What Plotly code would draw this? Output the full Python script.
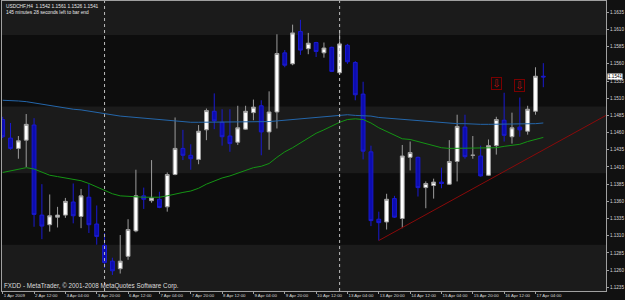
import plotly.graph_objects as go

# ---------------- data (USDCHF, H4) ----------------
bar_index = list(range(70))
opens = [1.1479, 1.1452, 1.1437, 1.1449, 1.1471, 1.1340, 1.1326, 1.1337, 1.1340, 1.1359,
         1.1338, 1.1366, 1.1327, 1.1296, 1.1273, 1.1262, 1.1280, 1.1317, 1.1368, 1.1361,
         1.1363, 1.1352, 1.1399, 1.1437, 1.1427, 1.1421, 1.1464, 1.1491, 1.1475, 1.1455,
         1.1446, 1.1465, 1.1489, 1.1499, 1.1461, 1.1490, 1.1576, 1.1560, 1.1607, 1.1582,
         1.1591, 1.1576, 1.1584, 1.1547, 1.1587, 1.1562, 1.1516, 1.1432, 1.1334, 1.1330,
         1.1364, 1.1335, 1.1424, 1.1424, 1.1380, 1.1383, 1.1388, 1.1385, 1.1418, 1.1468,
         1.1427, 1.1426, 1.1398, 1.1441, 1.1478, 1.1454, 1.1468, 1.1462, 1.1491, 1.1542]
highs = [1.1483, 1.1474, 1.1455, 1.1487, 1.1481, 1.1385, 1.1370, 1.1352, 1.1365, 1.1386,
         1.1378, 1.1385, 1.1354, 1.1314, 1.1278, 1.1311, 1.1334, 1.1406, 1.1380, 1.1420,
         1.1374, 1.1402, 1.1482, 1.1464, 1.1443, 1.1471, 1.1495, 1.1517, 1.1494, 1.1494,
         1.1499, 1.1499, 1.1508, 1.1507, 1.1520, 1.1603, 1.1580, 1.1617, 1.1624, 1.1605,
         1.1592, 1.1591, 1.1585, 1.1609, 1.1589, 1.1564, 1.1534, 1.1441, 1.1345, 1.1371,
         1.1368, 1.1442, 1.1447, 1.1425, 1.1389, 1.1393, 1.1409, 1.1449, 1.1486, 1.1486,
         1.1455, 1.1441, 1.1450, 1.1483, 1.1518, 1.1489, 1.1511, 1.1499, 1.1555, 1.1561]
lows = [1.1452, 1.1435, 1.1422, 1.1410, 1.1323, 1.1305, 1.1316, 1.1322, 1.1336, 1.1328,
        1.1321, 1.1314, 1.1297, 1.1263, 1.1253, 1.1255, 1.1275, 1.1315, 1.1349, 1.1358,
        1.1350, 1.1345, 1.1398, 1.1420, 1.1406, 1.1414, 1.1449, 1.1465, 1.1441, 1.1432,
        1.1442, 1.1464, 1.1478, 1.1427, 1.1435, 1.1466, 1.1555, 1.1558, 1.1573, 1.1574,
        1.1570, 1.1569, 1.1548, 1.1546, 1.1560, 1.1507, 1.1421, 1.1324, 1.1303, 1.1319,
        1.1336, 1.1321, 1.1405, 1.1367, 1.1350, 1.1364, 1.1379, 1.1384, 1.1389, 1.1422,
        1.1422, 1.1396, 1.1397, 1.1428, 1.1447, 1.1444, 1.1454, 1.1457, 1.1486, 1.1526]
closes = [1.1454, 1.1437, 1.1448, 1.1472, 1.1341, 1.1324, 1.1339, 1.1340, 1.1360, 1.1339,
          1.1368, 1.1326, 1.1309, 1.1271, 1.1259, 1.1273, 1.1319, 1.1368, 1.1363, 1.1365,
          1.1351, 1.1399, 1.1437, 1.1427, 1.1422, 1.1462, 1.1492, 1.1477, 1.1454, 1.1444,
          1.1467, 1.1491, 1.1497, 1.1461, 1.1490, 1.1575, 1.1558, 1.1605, 1.1580, 1.1590,
          1.1578, 1.1583, 1.1549, 1.1589, 1.1563, 1.1515, 1.1433, 1.1332, 1.1329, 1.1363,
          1.1337, 1.1426, 1.1431, 1.1380, 1.1386, 1.1388, 1.1386, 1.1418, 1.1469, 1.1425,
          1.1427, 1.1397, 1.1441, 1.1479, 1.1456, 1.1467, 1.1464, 1.1494, 1.1542, 1.1541]

ma_blue = [1.1507, 1.1507, 1.1506, 1.1505, 1.1503, 1.1502, 1.1499, 1.1498, 1.1496, 1.1494,
           1.1493, 1.1491, 1.1489, 1.1487, 1.1486, 1.1484, 1.1483, 1.1482, 1.1481, 1.1479,
           1.1478, 1.1477, 1.1476, 1.1476, 1.1475, 1.1475, 1.1475, 1.1475, 1.1475, 1.1475,
           1.1475, 1.1475, 1.1475, 1.1476, 1.1476, 1.1477, 1.1478, 1.1479, 1.1480, 1.1482,
           1.1483, 1.1484, 1.1485, 1.1485, 1.1486, 1.1485, 1.1485, 1.1484, 1.1482, 1.1481,
           1.1480, 1.1479, 1.1478, 1.1478, 1.1477, 1.1476, 1.1474, 1.1474, 1.1473, 1.1473,
           1.1472, 1.1472, 1.1472, 1.1472, 1.1472, 1.1472, 1.1472, 1.1473, 1.1473, 1.1474]
ma_green = [1.1402, 1.1404, 1.1406, 1.1409, 1.1407, 1.1403, 1.1398, 1.1396, 1.1394, 1.1392,
            1.1390, 1.1386, 1.1381, 1.1377, 1.1371, 1.1368, 1.1367, 1.1367, 1.1366, 1.1366,
            1.1366, 1.1368, 1.1371, 1.1373, 1.1375, 1.1379, 1.1385, 1.1390, 1.1394, 1.1397,
            1.1401, 1.1405, 1.1409, 1.1411, 1.1415, 1.1424, 1.1432, 1.1438, 1.1445, 1.1453,
            1.1459, 1.1464, 1.1470, 1.1475, 1.1479, 1.1480, 1.1479, 1.1474, 1.1467, 1.1462,
            1.1456, 1.1451, 1.1450, 1.1447, 1.1444, 1.1441, 1.1438, 1.1437, 1.1437, 1.1438,
            1.1437, 1.1437, 1.1437, 1.1438, 1.1440, 1.1441, 1.1443, 1.1447, 1.1450, 1.1453]

tick_bars = [0, 4, 8, 12, 16, 20, 24, 28, 32, 36, 40, 44, 48, 52, 56, 60, 64, 68]
tick_labels = ["1 Apr 2009", "2 Apr 12:00", "3 Apr 04:00", "3 Apr 20:00", "6 Apr 12:00",
               "7 Apr 04:00", "7 Apr 20:00", "8 Apr 12:00", "9 Apr 04:00", "9 Apr 20:00",
               "10 Apr 12:00", "13 Apr 04:00", "13 Apr 20:00", "14 Apr 12:00",
               "15 Apr 04:00", "15 Apr 20:00", "16 Apr 12:00", "17 Apr 04:00"]
price_ticks = [1.1235, 1.1260, 1.1285, 1.1310, 1.1335, 1.1360, 1.1385, 1.1410, 1.1435,
               1.1460, 1.1485, 1.1510, 1.1535, 1.1560, 1.1585, 1.1610, 1.1635]

week_separator_bars = [13, 43]
light_bands = [(1.1602, 1.1700), (1.1401, 1.1498), (1.1150, 1.1297)]
trend_bars = [48, 77]
trend_prices = [1.1303, 1.1485]
signal_bars = [63, 66]
signal_prices = [1.1532, 1.1528]

symbol = "USDCHF,H4"
timer_text = "145 minutes 28 seconds left to bar end"
copyright_text = "FXDD - MetaTrader, \u00a9 2001-2008 MetaQuotes Software Corp."

# ---------------- figure ----------------
fig = go.Figure()

# extend trendline as a ray
slope = (trend_prices[1] - trend_prices[0]) / (trend_bars[1] - trend_bars[0])
ray_x = [trend_bars[0], trend_bars[1] + 5]
ray_y = [trend_prices[0], trend_prices[0] + slope * (ray_x[1] - trend_bars[0])]

fig.add_trace(go.Scatter(x=ray_x, y=ray_y, mode="lines",
                         line=dict(color="#8a0a0a", width=1), hoverinfo="skip"))
fig.add_trace(go.Scatter(x=bar_index, y=ma_blue, mode="lines",
                         line=dict(color="#2466aa", width=1), hoverinfo="skip"))
fig.add_trace(go.Scatter(x=bar_index, y=ma_green, mode="lines",
                         line=dict(color="#149414", width=1), hoverinfo="skip"))
fig.add_trace(go.Candlestick(
    x=bar_index, open=opens, high=highs, low=lows, close=closes,
    increasing=dict(fillcolor="#ffffff", line=dict(color="#9c9c9c", width=1)),
    decreasing=dict(fillcolor="#0c0cb0", line=dict(color="#1a1ad0", width=1)),
    whiskerwidth=0, hoverinfo="skip"))

shapes = []
for lo, hi in light_bands:
    shapes.append(dict(type="rect", xref="paper", yref="y", x0=0, x1=1, y0=lo, y1=hi,
                       fillcolor="#1b1b1b", line=dict(width=0), layer="below"))
for b in week_separator_bars:
    shapes.append(dict(type="line", xref="x", yref="paper", x0=b, x1=b, y0=0, y1=1,
                       line=dict(color="#bdbdbd", width=1, dash="dot"), layer="above"))

annotations = [
    dict(xref="paper", yref="paper", x=0, y=1, xanchor="left", yanchor="top",
         xshift=2, yshift=-1, showarrow=False,
         text=f"{symbol}  {opens[-1]:.4f} {highs[-1]:.4f} {lows[-1]:.4f} {closes[-1]:.4f}",
         font=dict(family="Liberation Sans", size=4.8, color="#e8e8e8")),
    dict(xref="paper", yref="paper", x=0, y=1, xanchor="left", yanchor="top",
         xshift=2, yshift=-6.5, showarrow=False, text=timer_text,
         font=dict(family="Liberation Sans", size=4.8, color="#e8e8e8")),
    dict(xref="paper", yref="paper", x=0, y=0, xanchor="left", yanchor="bottom",
         xshift=0, yshift=-1, showarrow=False, text=copyright_text,
         font=dict(family="Liberation Sans", size=6.3, color="#dcdcdc")),
    dict(xref="paper", yref="y", x=1, y=closes[-1], xanchor="left", yanchor="middle",
         xshift=1, showarrow=False, text=f"{closes[-1]:.4f}", bgcolor="#ffffff",
         borderpad=0, font=dict(family="Liberation Sans", size=4.6, color="#000000")),
]
for b, p in zip(signal_bars, signal_prices):
    annotations.append(dict(xref="x", yref="y", x=b, y=p, showarrow=False, text="\u21e9",
                            width=9, height=11, borderpad=0, borderwidth=1,
                            bordercolor="#7a0000",
                            font=dict(family="DejaVu Sans", size=10, color="#c01010")))

fig.update_layout(
    width=625, height=300,
    margin=dict(l=2, r=19, t=1, b=9),
    paper_bgcolor="#111111", plot_bgcolor="#0d0d0d",
    showlegend=False,
    shapes=shapes, annotations=annotations,
    xaxis=dict(range=[-0.09, 77.0], rangeslider=dict(visible=False),
               tickmode="array", tickvals=tick_bars, ticktext=tick_labels,
               tickangle=0,
               ticks="outside", ticklen=2, tickcolor="#a0a0a0",
               ticklabelposition="outside right",
               tickfont=dict(family="Liberation Sans", size=4.4, color="#d8d8d8"),
               showgrid=False, zeroline=False,
               showline=True, mirror=True, linecolor="#a0a0a0", linewidth=1),
    yaxis=dict(range=[1.12296, 1.16514], side="right",
               tickmode="array", tickvals=price_ticks,
               ticktext=[f"{v:.4f}" for v in price_ticks],
               ticks="outside", ticklen=2, tickcolor="#a0a0a0",
               tickfont=dict(family="Liberation Sans", size=4.6, color="#d8d8d8"),
               showgrid=False, zeroline=False,
               showline=True, mirror=True, linecolor="#a0a0a0", linewidth=1),
)

fig.write_html("out.html")
